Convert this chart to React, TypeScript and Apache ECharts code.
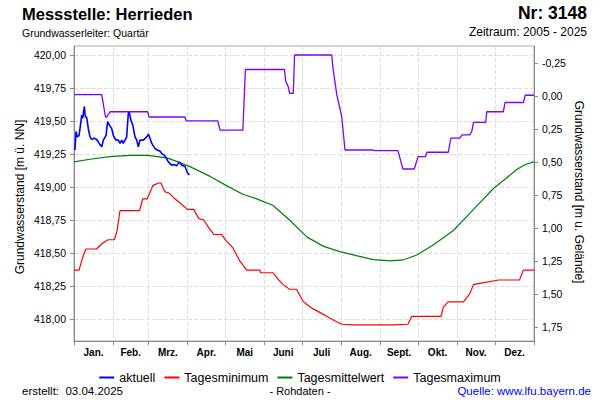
import React, { useEffect, useRef } from 'react';
import * as echarts from 'echarts';

const monthNames = ['Jan.', 'Feb.', 'Mrz.', 'Apr.', 'Mai', 'Juni', 'Juli', 'Aug.', 'Sept.', 'Okt.', 'Nov.', 'Dez.'];
const monthStarts = [0, 31, 59, 90, 120, 151, 181, 212, 243, 273, 304, 334, 365];
const monthMids = [15.5, 45, 74.5, 105, 135.5, 166, 196.5, 227.5, 258, 288.5, 319, 349.5];
const leftTicks = [418, 418.25, 418.5, 418.75, 419, 419.25, 419.5, 419.75, 420];
const rightTicks = [-0.25, 0, 0.25, 0.5, 0.75, 1, 1.25, 1.5, 1.75];
const groundLevel = 419.69;
const levelMin = 417.833;
const levelMax = 420.068;

// aktuell (day of year, m ü. NN)
const aktuellDays = [0.8, 1.6, 2.6, 4, 5.3, 6.1, 6.9, 8.2, 9, 10, 11.3, 12.7, 14, 16, 18, 20, 22, 23.3, 25.4, 26.7, 28, 30, 31.2, 33.3, 35.2, 36.5, 37.9, 39.1, 40.5, 41.8, 43.1, 43.9, 45, 46.6, 48.4, 49.8, 51, 52.4, 55, 57.7, 59, 60.3, 61.7, 64.3, 66, 68.3, 70, 72.2, 74.8, 77.5, 79, 81.5, 83.6, 85.5, 88.1, 89.9, 91.5];
const aktuellValues = [419.28, 419.42, 419.38, 419.39, 419.48, 419.545, 419.52, 419.61, 419.53, 419.53, 419.445, 419.38, 419.36, 419.37, 419.36, 419.33, 419.305, 419.355, 419.39, 419.495, 419.47, 419.44, 419.39, 419.355, 419.355, 419.33, 419.355, 419.33, 419.355, 419.38, 419.56, 419.565, 419.51, 419.47, 419.38, 419.355, 419.305, 419.355, 419.355, 419.38, 419.4, 419.37, 419.33, 419.29, 419.28, 419.27, 419.25, 419.235, 419.19, 419.165, 419.17, 419.16, 419.19, 419.165, 419.155, 419.11, 419.09];

// Tagesminimum
const minDays = [0, 4, 7, 9.5, 18, 22, 27, 32, 34, 36.5, 52, 54.5, 58, 60, 62.5, 67, 69, 72, 76, 80, 84, 90, 95, 99, 103, 107, 111, 117, 121, 126, 131.5, 137, 147.5, 148, 158, 162, 166, 171, 176.5, 182, 189, 195, 200.5, 206, 212.5, 221.5, 253.5, 265, 268, 291.3, 293, 297, 309, 314, 317, 322, 337, 353.5, 356.5, 365];
const minValues = [418.37, 418.37, 418.47, 418.53, 418.53, 418.57, 418.6, 418.6, 418.66, 418.82, 418.82, 418.91, 418.91, 418.95, 419.01, 419.03, 419.03, 418.965, 418.95, 418.91, 418.88, 418.83, 418.83, 418.76, 418.75, 418.69, 418.64, 418.64, 418.59, 418.54, 418.44, 418.37, 418.37, 418.35, 418.35, 418.3, 418.26, 418.225, 418.225, 418.13, 418.08, 418.05, 418.02, 417.99, 417.96, 417.955, 417.955, 417.96, 418.02, 418.02, 418.09, 418.13, 418.13, 418.19, 418.26, 418.27, 418.295, 418.295, 418.37, 418.37];

// Tagesmittelwert
const meanDays = [0, 12.7, 28.6, 44.4, 58.7, 73.6, 82.5, 92, 108, 121, 134, 145, 158, 171, 185, 198, 211, 224, 237.5, 251, 261, 272, 285, 301, 317, 333, 343, 351, 358, 365];
const meanValues = [419.19, 419.21, 419.23, 419.24, 419.24, 419.22, 419.19, 419.154, 419.08, 419.01, 418.945, 418.91, 418.86, 418.75, 418.62, 418.55, 418.51, 418.48, 418.45, 418.44, 418.447, 418.485, 418.56, 418.67, 418.83, 418.99, 419.066, 419.13, 419.17, 419.19];

// Tagesmaximum
const maxDays = [0, 22, 25, 26, 28.6, 58.5, 59.5, 88, 89, 114, 116, 134, 136, 167, 168, 170, 171, 174, 175, 204.5, 205.5, 208.5, 212.5, 215, 237, 239, 257, 261, 270, 273, 279, 280, 297, 299, 306, 308, 314, 315.6, 317, 326.7, 327.5, 340.7, 342, 356.6, 358, 365];
const maxValues = [419.7, 419.7, 419.53, 419.53, 419.57, 419.57, 419.53, 419.53, 419.5, 419.5, 419.43, 419.43, 419.89, 419.89, 419.8, 419.76, 419.71, 419.71, 420.0, 420.0, 419.9, 419.7, 419.53, 419.28, 419.28, 419.275, 419.275, 419.136, 419.136, 419.23, 419.23, 419.263, 419.263, 419.37, 419.37, 419.395, 419.395, 419.42, 419.49, 419.49, 419.57, 419.57, 419.64, 419.64, 419.695, 419.695];

const pairs = (xs: number[], ys: number[]) => xs.map((x, i) => [x, ys[i]]);
const fmt = (v: number) => v.toFixed(2).replace('.', ',');
const FONT = '"Liberation Sans", Arial, sans-serif';

export default function App() {
  const ref = useRef<HTMLDivElement>(null);
  useEffect(() => {
    if (!ref.current) return;
    const chart = echarts.init(ref.current, undefined, { renderer: 'svg' });
    const lineSeries = (name: string, data: number[][], color: string, width: number, z: number) => ({
      name,
      type: 'line',
      data,
      showSymbol: false,
      symbol: 'none',
      color,
      lineStyle: { color, width },
      z,
      xAxisIndex: 0,
      yAxisIndex: 0,
    });
    chart.setOption({
      animation: false,
      textStyle: { fontFamily: FONT },
      grid: {
        left: 74,
        right: 66,
        top: 46,
        bottom: 59,
        show: true,
        borderColor: '#aaa',
        borderWidth: 1,
        backgroundColor: 'transparent',
      },
      legend: {
        top: 366,
        left: 'center',
        icon: 'rect',
        itemWidth: 15,
        itemHeight: 2,
        itemGap: 9,
        textStyle: { fontSize: 12.5, color: '#000', fontFamily: FONT },
        data: ['aktuell', 'Tagesminimum', 'Tagesmittelwert', 'Tagesmaximum'],
      },
      xAxis: {
        type: 'value',
        min: 0,
        max: 365,
        axisLine: { show: true, onZero: false, lineStyle: { color: '#888', width: 1 } },
        axisTick: { show: true, length: 4, customValues: monthStarts, lineStyle: { color: '#888' } },
        splitLine: { show: true, lineStyle: { color: '#ddd', type: 'dashed' } },
        axisLabel: {
          customValues: monthMids,
          margin: 6,
          fontSize: 10,
          fontWeight: 'bold',
          color: '#000',
          fontFamily: FONT,
          formatter: (v: number) => {
            const i = monthMids.indexOf(v);
            return i >= 0 ? monthNames[i] : '';
          },
        },
      },
      yAxis: [
        {
          type: 'value',
          min: levelMin,
          max: levelMax,
          position: 'left',
          axisLine: { show: true, onZero: false, lineStyle: { color: '#888', width: 1 } },
          axisTick: { show: true, length: 4, customValues: leftTicks, lineStyle: { color: '#888' } },
          splitLine: { show: true, lineStyle: { color: '#ddd', type: 'dashed' } },
          axisLabel: {
            customValues: leftTicks,
            margin: 8,
            fontSize: 10.5,
            color: '#000',
            fontFamily: FONT,
            formatter: (v: number) => fmt(v),
          },
        },
        {
          type: 'value',
          min: groundLevel - levelMax,
          max: groundLevel - levelMin,
          inverse: true,
          position: 'right',
          axisLine: { show: true, onZero: false, lineStyle: { color: '#888', width: 1 } },
          axisTick: { show: true, length: 4, customValues: rightTicks, lineStyle: { color: '#888' } },
          splitLine: { show: false },
          axisLabel: {
            customValues: rightTicks,
            margin: 8,
            fontSize: 10.5,
            color: '#000',
            fontFamily: FONT,
            formatter: (v: number) => fmt(v),
          },
        },
      ],
      series: [
        lineSeries('aktuell', pairs(aktuellDays, aktuellValues), '#0000ff', 1.6, 5),
        lineSeries('Tagesminimum', pairs(minDays, minValues), '#ff0000', 1.2, 3),
        lineSeries('Tagesmittelwert', pairs(meanDays, meanValues), '#008000', 1.2, 3),
        lineSeries('Tagesmaximum', pairs(maxDays, maxValues), '#8000ff', 1.3, 3),
      ],
      graphic: [
        {
          type: 'text', left: 22, top: 5,
          style: { text: 'Messstelle: Herrieden', fontSize: 16.5, fontWeight: 'bold', fill: '#000', fontFamily: FONT },
        },
        {
          type: 'text', right: 13, top: 4,
          style: { text: 'Nr: 3148', fontSize: 17.5, fontWeight: 'bold', fill: '#000', fontFamily: FONT },
        },
        {
          type: 'text', left: 22, top: 27,
          style: { text: 'Grundwasserleiter: Quartär', fontSize: 10.5, fill: '#000', fontFamily: FONT },
        },
        {
          type: 'text', right: 13, top: 26,
          style: { text: 'Zeitraum: 2005 - 2025', fontSize: 12, fill: '#000', fontFamily: FONT },
        },
        {
          type: 'text', x: 20, y: 197, rotation: Math.PI / 2,
          style: { text: 'Grundwasserstand [m ü. NN]', fontSize: 12, fill: '#000', fontFamily: FONT, align: 'center', verticalAlign: 'middle' },
        },
        {
          type: 'text', x: 579, y: 192, rotation: -Math.PI / 2,
          style: { text: 'Grundwasserstand [m u. Gelände]', fontSize: 12, fill: '#000', fontFamily: FONT, align: 'center', verticalAlign: 'middle' },
        },
        {
          type: 'text', x: 22, y: 391,
          style: { text: 'erstellt:  03.04.2025', fontSize: 11.5, fill: '#000', fontFamily: FONT, align: 'left', verticalAlign: 'middle' },
        },
        {
          type: 'text', x: 300, y: 391,
          style: { text: '- Rohdaten -', fontSize: 11, fill: '#000', fontFamily: FONT, align: 'center', verticalAlign: 'middle' },
        },
        {
          type: 'text', x: 591, y: 391,
          style: { text: 'Quelle: www.lfu.bayern.de', fontSize: 11.5, fill: '#0000ff', fontFamily: FONT, align: 'right', verticalAlign: 'middle' },
        },
      ],
    });
    return () => chart.dispose();
  }, []);
  return <div ref={ref} style={{ width: 600, height: 400, position: 'absolute', left: 0, top: 0 }} />;
}
